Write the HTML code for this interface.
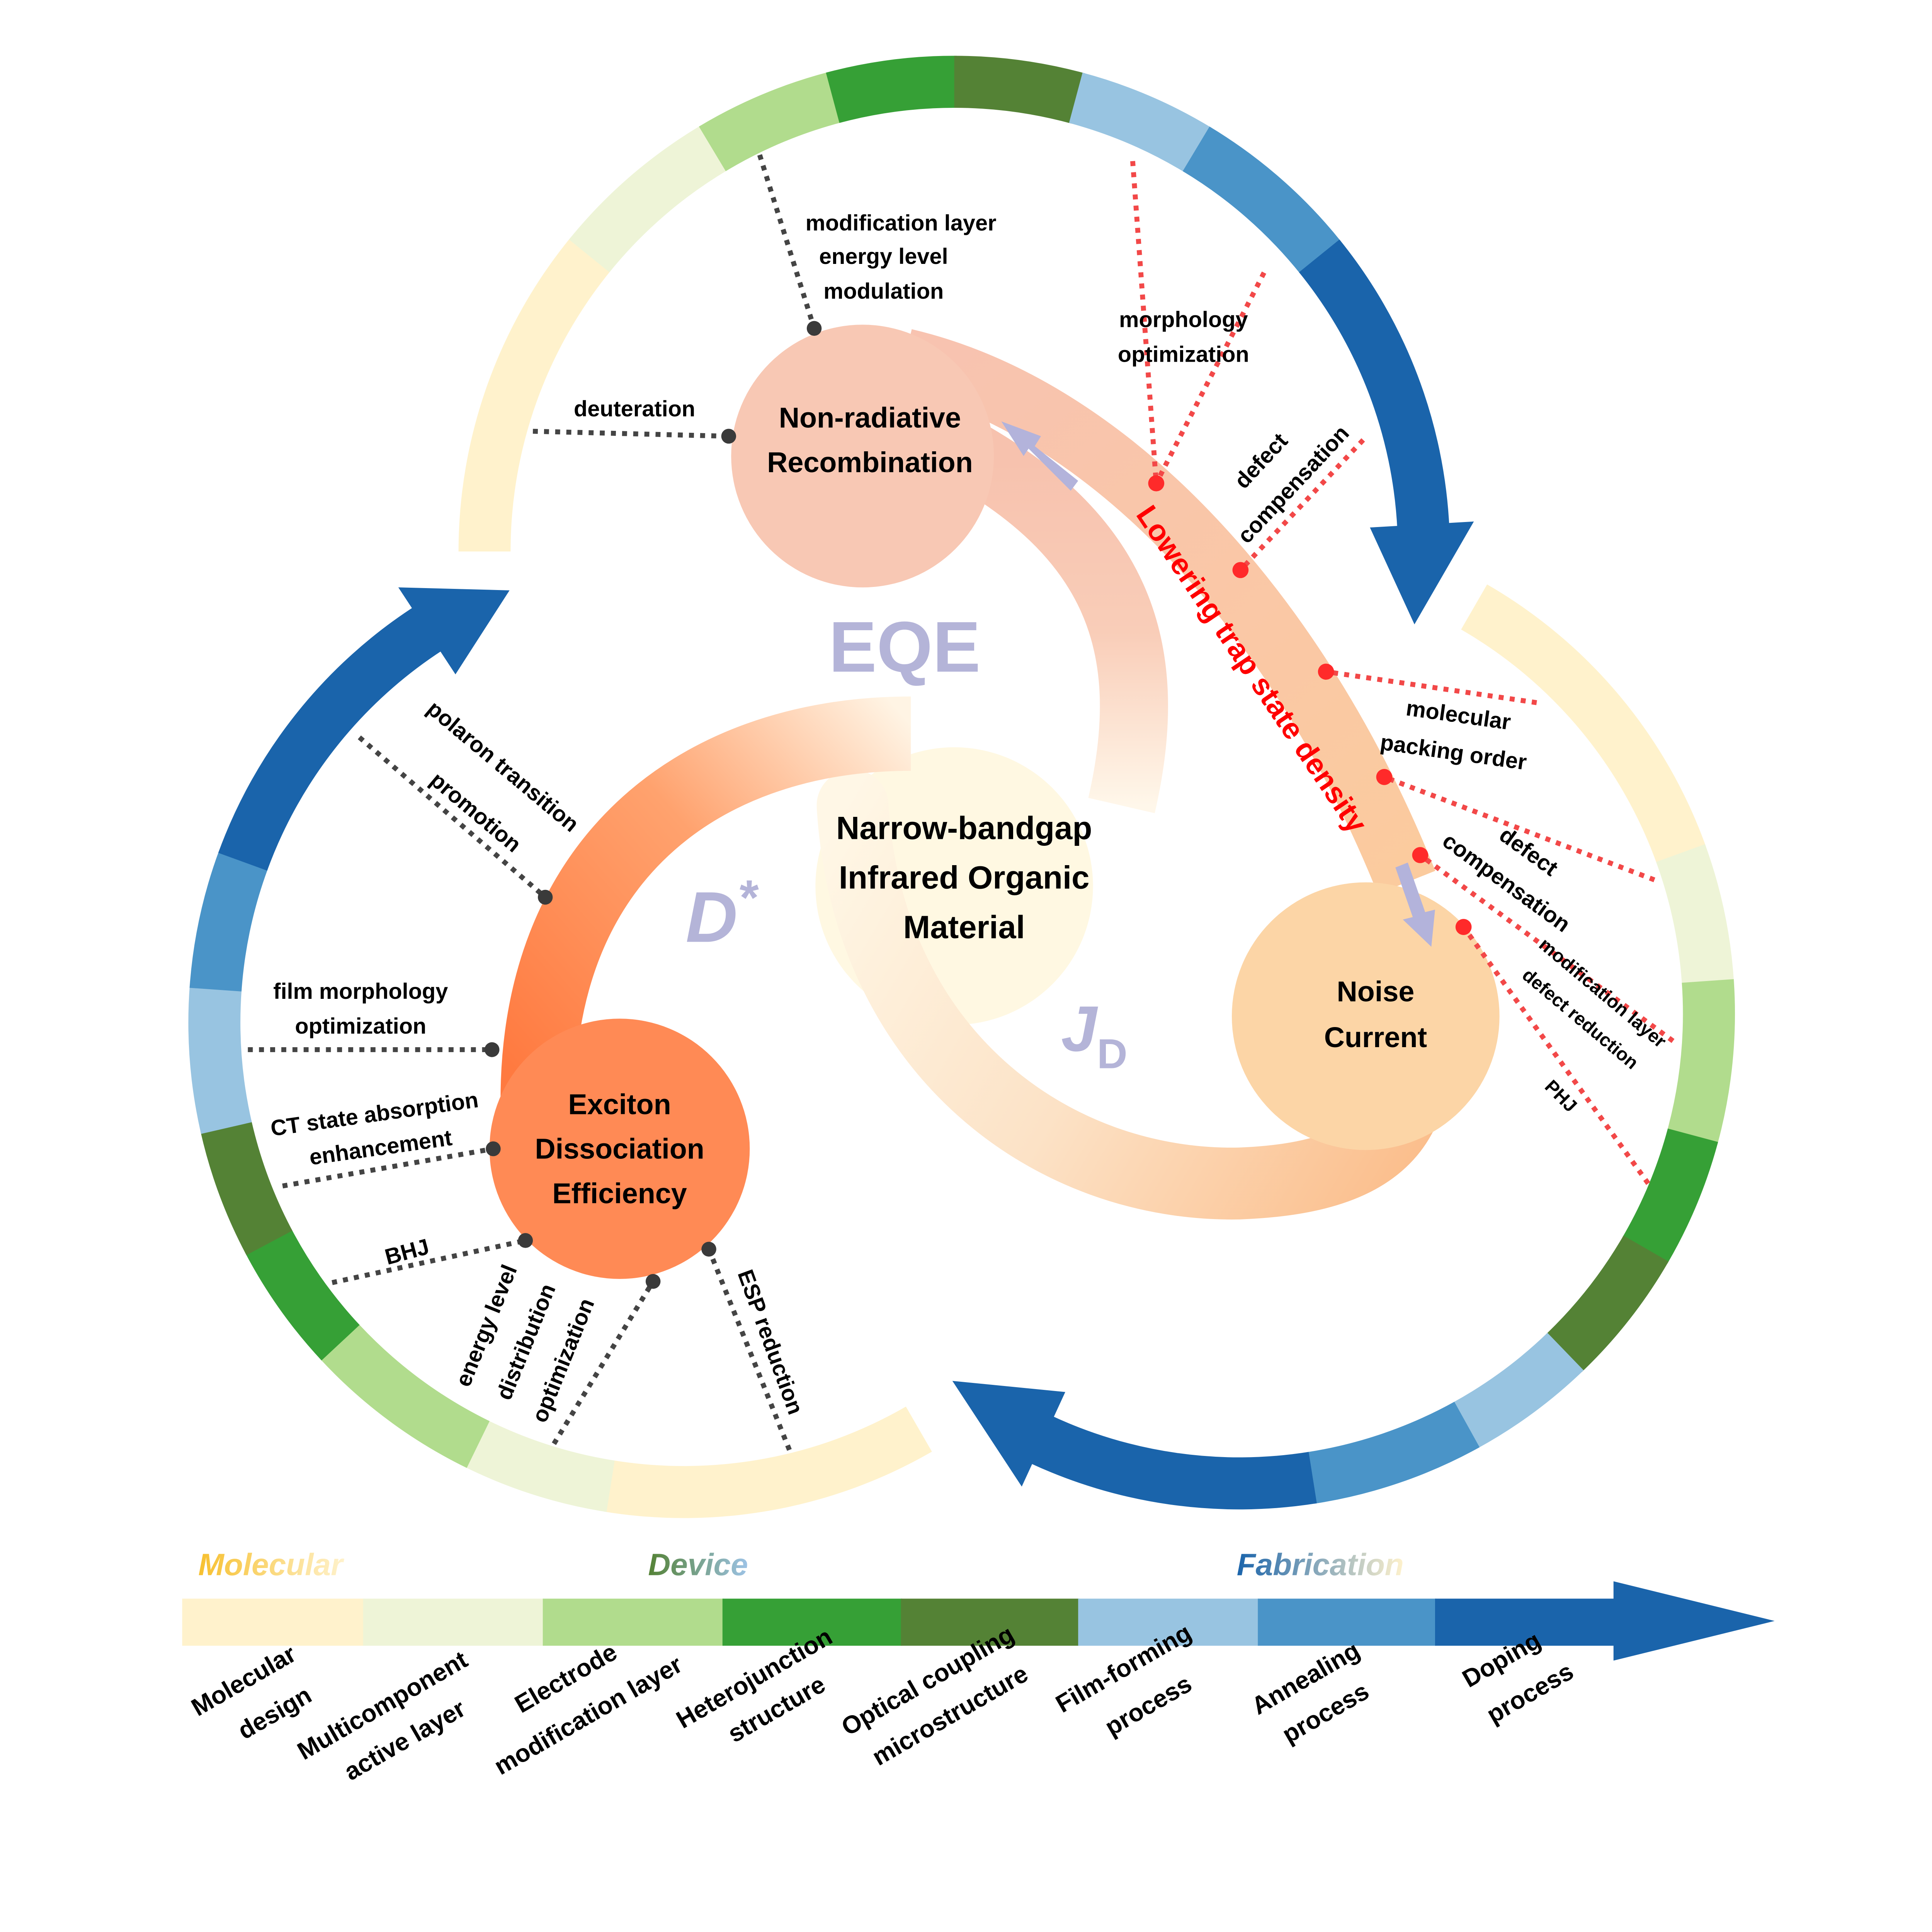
<!DOCTYPE html>
<html><head><meta charset="utf-8">
<style>
html,body{margin:0;padding:0;background:#fff;width:100%;height:100%;overflow:hidden;}
svg{display:block;width:100vw;height:100vh;}
text{font-family:"Liberation Sans",sans-serif;font-weight:bold;}
</style></head>
<body>
<svg id="s" viewBox="0 0 1559 1559" preserveAspectRatio="xMidYMid meet" xmlns="http://www.w3.org/2000/svg">
<defs>
<linearGradient id="gOr" x1="420" y1="870" x2="740" y2="590" gradientUnits="userSpaceOnUse">
<stop offset="0" stop-color="#FF7A40"/><stop offset="0.55" stop-color="#FFA26E"/><stop offset="1" stop-color="#FFF4E4"/></linearGradient>
<linearGradient id="gPk" x1="0" y1="370" x2="0" y2="650" gradientUnits="userSpaceOnUse">
<stop offset="0" stop-color="#F7C2AE"/><stop offset="0.5" stop-color="#F9CDB8"/><stop offset="1" stop-color="#FFF7EA"/></linearGradient>
<linearGradient id="gPe" x1="680" y1="650" x2="1150" y2="930" gradientUnits="userSpaceOnUse">
<stop offset="0" stop-color="#FFF7E6"/><stop offset="0.5" stop-color="#FCE2C6"/><stop offset="1" stop-color="#FBBE8C"/></linearGradient>
<linearGradient id="gTr" x1="760" y1="285" x2="1130" y2="710" gradientUnits="userSpaceOnUse">
<stop offset="0" stop-color="#F8C3B0"/><stop offset="1" stop-color="#FBCB9E"/></linearGradient>
<linearGradient id="tM" x1="0" y1="0" x2="1" y2="0"><stop offset="0" stop-color="#F7C02F"/><stop offset="1" stop-color="#FFF2CC"/></linearGradient>
<linearGradient id="tD" x1="0" y1="0" x2="1" y2="0"><stop offset="0" stop-color="#548235"/><stop offset="1" stop-color="#9DC3E6"/></linearGradient>
<linearGradient id="tF" x1="0" y1="0" x2="1" y2="0"><stop offset="0" stop-color="#1A64AB"/><stop offset="1" stop-color="#FFF2CC"/></linearGradient>
</defs>
<g id="rings"></g>

<ellipse cx="770" cy="715" rx="112" ry="112" fill="#FFF8E2"/>
<path d="M 770 360 C 900 430 935 520 905 650" fill="none" stroke="url(#gPk)" stroke-width="55"/>
<path d="M 688 650 C 700 850 850 958 1000 955 C 1080 952 1120 930 1135 890" fill="none" stroke="url(#gPe)" stroke-width="58" stroke-linecap="round"/>
<path d="M 435 920 C 420 700 560 592 735 592" fill="none" stroke="url(#gOr)" stroke-width="60"/>
<path d="M 730 290 C 900 330 1050 500 1135 712" fill="none" stroke="url(#gTr)" stroke-width="50"/>

<circle cx="696" cy="368" r="106" fill="#F8C8B4"/>
<circle cx="1102" cy="820" r="108" fill="#FCD5A6"/>
<circle cx="500" cy="927" r="105" fill="#FF8A55"/>

<g fill="#B3B3DB">
<path d="M 870 388 L 835 360 L 840 352 L 808 340 L 826 368 L 830 362 L 864 396 Z"/>
<path d="M 1126 700 L 1140 740 L 1132 742 L 1155 764 L 1158 734 L 1150 736 L 1136 696 Z"/>
</g>

<text x="1010" y="548" font-size="24" fill="#FF0000" text-anchor="middle" transform="rotate(56 1010 540)">Lowering trap state density</text>

<text x="730" y="542" font-size="58" fill="#B4B4D8" text-anchor="middle">EQE</text>
<text x="582" y="760" font-size="58" fill="#B4B4D8" text-anchor="middle" font-style="italic">D<tspan font-size="40" dy="-22">*</tspan></text>
<text x="883" y="848" font-size="52" fill="#B4B4D8" font-style="italic" text-anchor="middle">J<tspan font-size="34" dy="14" font-style="normal">D</tspan></text>

<g fill="none" stroke="#444" stroke-width="4" stroke-dasharray="4 5">
<path d="M613 125 L657 265"/><path d="M430 348 L588 352"/><path d="M290 595 L440 724"/>
<path d="M200 847 L397 847"/><path d="M228 957 L398 927"/><path d="M268 1035 L424 1001"/>
<path d="M447 1165 L527 1034"/><path d="M637 1170 L572 1008"/>
</g>
<g fill="#3a3a3a">
<circle cx="657" cy="265" r="6"/><circle cx="588" cy="352" r="6"/><circle cx="440" cy="724" r="6"/>
<circle cx="397" cy="847" r="6"/><circle cx="398" cy="927" r="6"/><circle cx="424" cy="1001" r="6"/>
<circle cx="527" cy="1034" r="6"/><circle cx="572" cy="1008" r="6"/>
</g>
<g fill="none" stroke="#F24848" stroke-width="4" stroke-dasharray="4 5">
<path d="M914 130 L933 390"/><path d="M1020 220 L933 390"/><path d="M1100 355 L1001 460"/>
<path d="M1240 567 L1070 542"/><path d="M1335 710 L1117 627"/><path d="M1350 840 L1146 690"/>
<path d="M1330 955 L1181 748"/>
</g>
<g fill="#FF2A2A">
<circle cx="933" cy="390" r="6.5"/><circle cx="1001" cy="460" r="6.5"/><circle cx="1070" cy="542" r="6.5"/>
<circle cx="1117" cy="627" r="6.5"/><circle cx="1146" cy="690" r="6.5"/><circle cx="1181" cy="748" r="6.5"/>
</g>

<g font-size="23" text-anchor="middle" fill="#000">
<text x="702" y="345">Non-radiative</text><text x="702" y="381">Recombination</text>
<text x="778" y="677" font-size="26">Narrow-bandgap</text><text x="778" y="717" font-size="26">Infrared Organic</text><text x="778" y="757" font-size="26">Material</text>
<text x="1110" y="808">Noise</text><text x="1110" y="845">Current</text>
<text x="500" y="899">Exciton</text><text x="500" y="935">Dissociation</text><text x="500" y="971">Efficiency</text>
</g>

<g font-size="18" text-anchor="middle" fill="#000">
<text x="727" y="186">modification layer</text><text x="713" y="213">energy level</text><text x="713" y="241">modulation</text>
<text x="512" y="336">deuteration</text>
<text x="955" y="264">morphology</text><text x="955" y="292">optimization</text>
<text transform="translate(1022,376) rotate(-47)">defect</text>
<text transform="translate(1048,395) rotate(-47)">compensation</text>
<text transform="translate(1176,583) rotate(8)">molecular</text>
<text transform="translate(1172,613) rotate(8)">packing order</text>
<text transform="translate(1230,692) rotate(36)">defect</text>
<text transform="translate(1212,717) rotate(36)">compensation</text>
<text font-size="15" transform="translate(1290,805) rotate(40)">modification layer</text>
<text font-size="15" transform="translate(1272,826) rotate(40)">defect reduction</text>
<text font-size="15" transform="translate(1256,888) rotate(45)">PHJ</text>
<text transform="translate(402,623) rotate(40)">polaron transition</text>
<text transform="translate(380,660) rotate(40)">promotion</text>
<text x="291" y="806">film morphology</text><text x="291" y="834">optimization</text>
<text transform="translate(303,905) rotate(-8)">CT state absorption</text>
<text transform="translate(308,932) rotate(-8)">enhancement</text>
<text transform="translate(330,1016) rotate(-15)">BHJ</text>
<text transform="translate(398,1072) rotate(-68)">energy level</text>
<text transform="translate(430,1085) rotate(-68)">distribution</text>
<text transform="translate(460,1100) rotate(-68)">optimization</text>
<text transform="translate(616,1085) rotate(70)">ESP reduction</text>
</g>

<g>
<rect x="147" y="1290" width="147" height="38" fill="#FFF2CC"/>
<rect x="293" y="1290" width="146" height="38" fill="#EEF4D7"/>
<rect x="438" y="1290" width="146" height="38" fill="#B1DC8D"/>
<rect x="583" y="1290" width="145" height="38" fill="#36A036"/>
<rect x="727" y="1290" width="144" height="38" fill="#548235"/>
<rect x="870" y="1290" width="146" height="38" fill="#98C4E1"/>
<rect x="1015" y="1290" width="144" height="38" fill="#4A94C8"/>
<rect x="1158" y="1290" width="146" height="38" fill="#1A64AB"/>
<polygon points="1302,1276 1432,1308 1302,1340" fill="#1A64AB"/>
</g>
<g font-size="25" font-style="italic">
<text x="160" y="1271" fill="url(#tM)">Molecular</text>
<text x="523" y="1271" fill="url(#tD)">Device</text>
<text x="998" y="1271" fill="url(#tF)">Fabrication</text>
</g>
<g font-size="20" text-anchor="middle" fill="#000">
<text transform="translate(200,1362) rotate(-30)">Molecular</text>
<text transform="translate(225,1388) rotate(-30)">design</text>
<text transform="translate(312,1382) rotate(-30)">Multicomponent</text>
<text transform="translate(330,1410) rotate(-30)">active layer</text>
<text transform="translate(460,1360) rotate(-30)">Electrode</text>
<text transform="translate(478,1390) rotate(-30)">modification layer</text>
<text transform="translate(612,1360) rotate(-30)">Heterojunction</text>
<text transform="translate(630,1385) rotate(-30)">structure</text>
<text transform="translate(752,1362) rotate(-30)">Optical coupling</text>
<text transform="translate(770,1390) rotate(-30)">microstructure</text>
<text transform="translate(910,1352) rotate(-30)">Film-forming</text>
<text transform="translate(930,1382) rotate(-30)">process</text>
<text transform="translate(1057,1360) rotate(-30)">Annealing</text>
<text transform="translate(1073,1388) rotate(-30)">process</text>
<text transform="translate(1215,1345) rotate(-30)">Doping</text>
<text transform="translate(1238,1372) rotate(-30)">process</text>
</g>
</svg>
<script>
(function(){
var C={c:"#FFF2CC",p:"#EEF4D7",l:"#B1DC8D",g:"#36A036",d:"#548235",b:"#98C4E1",m:"#4A94C8",k:"#1A64AB"};
var g=document.getElementById("rings"),NS="http://www.w3.org/2000/svg";
function pt(cx,cy,r,a){a=a*Math.PI/180;return [cx+r*Math.cos(a),cy-r*Math.sin(a)];}
function seg(cx,cy,r1,r2,a1,a2,col){
 var p1=pt(cx,cy,r2,a1),p2=pt(cx,cy,r2,a2),p3=pt(cx,cy,r1,a2),p4=pt(cx,cy,r1,a1);
 var d="M"+p1+" A"+r2+" "+r2+" 0 0 1 "+p2+" L"+p3+" A"+r1+" "+r1+" 0 0 0 "+p4+"Z";
 var e=document.createElementNS(NS,"path");e.setAttribute("d",d);e.setAttribute("fill",col);g.appendChild(e);}
function head(cx,cy,ri,ro,ab,at,rt,col){
 var a=pt(cx,cy,ri,ab),b=pt(cx,cy,ro,ab),t=pt(cx,cy,rt,at);
 var e=document.createElementNS(NS,"polygon");e.setAttribute("points",a+" "+b+" "+t);e.setAttribute("fill",col);g.appendChild(e);}
function ring(cx,cy,list,hb,ht){
 for(var i=0;i<list.length;i++){var s=list[i];seg(cx,cy,358,400,s[0],s[1]-0.3,C[s[2]]);}
 head(cx,cy,336,420,hb,ht,376,C.k);}
ring(770,445,[[180,141,"c"],[141,121,"p"],[121,105,"l"],[105,90,"g"],[90,75,"d"],[75,59,"b"],[59,39,"m"],[39,3,"k"]],3.3,-9);
ring(1000,818,[[60,20,"c"],[20,4,"p"],[4,-15,"l"],[-15,-30,"g"],[-30,-46,"d"],[-46,-61,"b"],[-61,-81,"m"],[-81,-115,"k"]],-114.7,-128);
ring(552,825,[[-60,-99,"c"],[-99,-116,"p"],[-116,-137,"l"],[-137,-152,"g"],[-152,-167,"d"],[-167,-184,"b"],[-184,-200,"m"],[-200,-237,"k"]],-236.7,-248);
})();
</script>
</body></html>
